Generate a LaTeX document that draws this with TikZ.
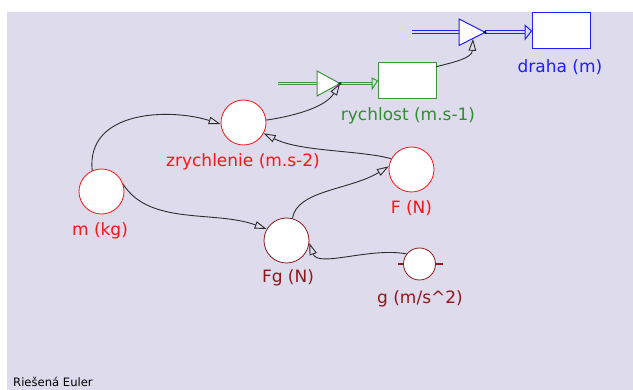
\documentclass[tikz,border=0pt]{standalone}
\usepackage{fontspec}
\setmainfont{DejaVu Sans}
\usetikzlibrary{arrows.meta}
\definecolor{bg}{RGB}{222,219,236}
\definecolor{cred}{RGB}{255,20,20}
\definecolor{cmar}{RGB}{140,25,25}
\definecolor{cgreen}{RGB}{60,150,60}
\definecolor{cgtext}{RGB}{50,140,50}
\definecolor{cblue}{RGB}{30,30,255}
\definecolor{conn}{RGB}{45,45,45}
\tikzset{
  circ/.style={circle,draw=#1,fill=white,line width=0.8pt,inner sep=0pt,minimum size=45pt},
  lbl/.style={anchor=base,font=\fontsize{17}{20}\selectfont,text=#1,inner sep=0pt},
  boxst/.style={rectangle,draw=#1,fill=white,line width=1pt,inner sep=0pt},
  link/.style={draw=conn,line width=0.9pt,-{Triangle[open,length=12pt,width=7.5pt,fill=bg]}},
  flow/.style={draw=#1,line width=1.1pt,double=bg,double distance=1.6pt},
  valve/.style={draw=#1,fill=white,line width=1pt,line join=miter},
}
\begin{document}
\begin{tikzpicture}[x=1pt,y=-1pt]
\useasboundingbox (0,0) rectangle (633,390);
\clip (0,0) rectangle (633,390);
\fill[white] (0,0) rectangle (633,390);
\fill[bg] (7,12) rectangle (633,390);

% stocks
\node[boxst=cgreen,minimum width=58pt,minimum height=36pt] (r) at (407,81) {};
\node[boxst=cblue,minimum width=58pt,minimum height=36pt] (d) at (561,31) {};

% flows (green)
\coordinate (gsrc) at (278,83.5);
\coordinate (gv) at (340,83.5);
\coordinate (ga) at (372,83.5);
\draw[flow=cgreen] (gsrc) -- (317,83.5);
\draw[flow=cgreen] (gv) -- (ga);
\filldraw[draw=cgreen,fill=bg,line width=1pt] (ga) ++(0,-5.5) -- (r.west) -- (372,89) -- cycle;
\draw[valve=cgreen] (317,71) -- (gv) -- (317,96) -- cycle;
\fill[black!70!green] (gv) circle (1.6pt);

% flows (blue)
\coordinate (bsrc) at (412,32.3);
\coordinate (bv) at (485,32.3);
\coordinate (ba) at (525,32.3);
\draw[flow=cblue] (bsrc) -- (459,32.3);
\draw[flow=cblue] (bv) -- (ba);
\filldraw[draw=cblue,fill=bg,line width=1pt] (ba) ++(0,-7) -- (d.west) -- (525,39.3) -- cycle;
\draw[valve=cblue] (459,19) -- (bv) -- (459,45.5) -- cycle;
\fill[blue!60!black] (bv) circle (1.6pt);
\coordinate (bvin) at (473,38.8);

% auxiliaries
\node[circ=cred] (z) at (243.5,122.5) {};
\node[circ=cred] (m) at (101.5,191.5) {};
\node[circ=cred] (F) at (411.5,169.5) {};
\node[circ=cmar] (Fg) at (286.5,240.5) {};
\node[circ=cmar,minimum size=32pt] (g) at (419.5,264) {};
\draw[cmar,line width=1.5pt] (398,264) -- (g.west) (g.east) -- (443,264);

% labels
\node[lbl=cred] (lz) at (243,167) {zrychlenie (m.s-2)};
\node[lbl=cred] (lm) at (100,235.5) {m (kg)};
\node[lbl=cred] (lF) at (411.5,213.5) {F (N)};
\node[lbl=cmar] (lFg) at (288,283) {Fg (N)};
\node[lbl=cmar] (lg) at (420,303.5) {g (m/s\^{}2)};
\node[lbl=cgtext] (lr) at (408,120.5) {rychlost (m.s-1)};
\node[lbl=cblue] (ld) at (560,72.5) {draha (m)};

% connectors
\draw[link] (m.114) .. controls (86,110) and (170,108) .. (z.184);
\draw[link] (m.18) .. controls (150,226) and (215,210) .. (Fg.150);
\draw[link] (F.152) .. controls (360,150) and (300,152) .. (z.332);
\draw[link] (Fg.75) .. controls (297,190) and (350,190) .. (F.172);
\draw[link] (g.142) .. controls (370,247) and (318,268) .. (Fg.354);
\draw[link] (z.6) .. controls (300,115) and (326,106) .. (gv);
\draw[link] (r.26) .. controls (455,62) and (472,58) .. (bvin);

\node[anchor=base west,inner sep=0pt,font=\fontsize{11.6}{13}\selectfont] (title) at (13,386.5) {Riešená Euler};
\end{tikzpicture}
\end{document}
